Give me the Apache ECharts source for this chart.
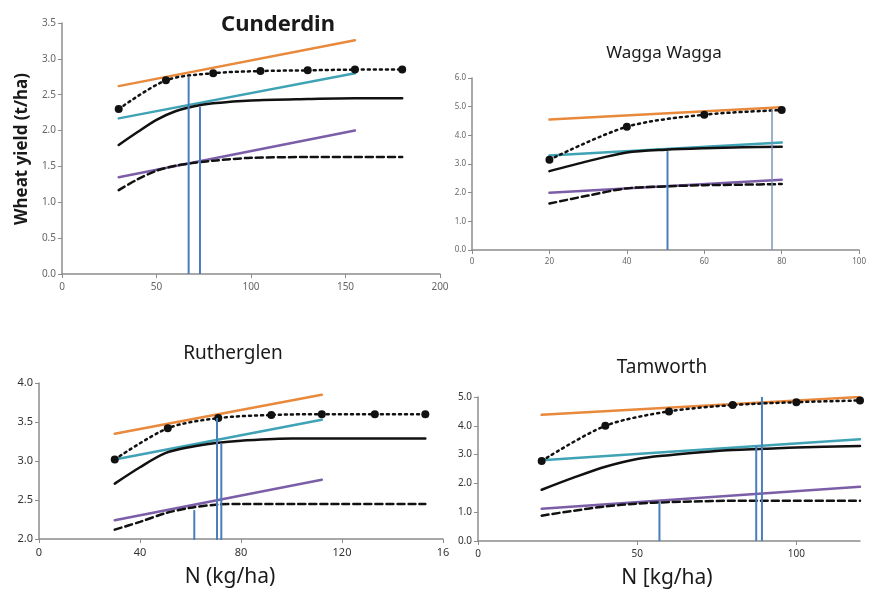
<!DOCTYPE html>
<html>
<head>
<meta charset="utf-8">
<script src="https://cdn.jsdelivr.net/npm/echarts@6/dist/echarts.min.js"></script>
<style>
html, body { margin: 0; padding: 0; background: #fff; }
#chart { width: 869px; height: 591px; }
</style>
</head>
<body>
<div id="chart"></div>
<script>
// Cunderdin
var cunLineX = [30, 155];
var cunOrange = [2.62, 3.26];
var cunTeal = [2.17, 2.8];
var cunPurple = [1.35, 2.0];
var cunDotX = [30, 55, 80, 105, 130, 155, 180];
var cunDot = [2.3, 2.7, 2.8, 2.83, 2.84, 2.85, 2.85];
var cunCurveX = [30, 40, 50, 60, 70, 80, 100, 130, 155, 180];
var cunSolid = [1.8, 1.98, 2.15, 2.27, 2.34, 2.38, 2.42, 2.44, 2.45, 2.45];
var cunDashed = [1.17, 1.32, 1.44, 1.51, 1.55, 1.58, 1.62, 1.63, 1.63, 1.63];
var cunBlueX = [67, 73];
var cunBlueTop = [2.75, 2.33];

// Wagga Wagga
var wagLineX = [20, 80];
var wagOrange = [4.55, 4.98];
var wagTeal = [3.3, 3.75];
var wagPurple = [2.0, 2.45];
var wagDotX = [20, 40, 60, 80];
var wagDot = [3.15, 4.3, 4.72, 4.88];
var wagCurveX = [20, 30, 40, 50, 60, 70, 80];
var wagSolid = [2.75, 3.1, 3.4, 3.5, 3.55, 3.58, 3.6];
var wagDashed = [1.62, 1.9, 2.15, 2.22, 2.26, 2.28, 2.3];
var wagBlueX = [50.5, 77.5];
var wagBlueTop = [3.45, 4.88];

// Rutherglen
var rutLineX = [30, 112];
var rutOrange = [3.35, 3.85];
var rutTeal = [3.02, 3.53];
var rutPurple = [2.24, 2.76];
var rutDotX = [30, 51, 71, 92, 112, 133, 153];
var rutDot = [3.02, 3.42, 3.55, 3.59, 3.6, 3.6, 3.6];
var rutCurveX = [30, 40, 50, 60, 70, 80, 100, 120, 153];
var rutSolid = [2.71, 2.92, 3.1, 3.18, 3.23, 3.26, 3.29, 3.29, 3.29];
var rutDashed = [2.12, 2.22, 2.33, 2.4, 2.44, 2.45, 2.45, 2.45, 2.45];
var rutBlueX = [61.5, 70.5, 72.2];
var rutBlueTop = [2.37, 3.55, 3.23];

// Tamworth
var tamLineX = [20, 120];
var tamOrange = [4.38, 5.0];
var tamTeal = [2.8, 3.53];
var tamPurple = [1.12, 1.88];
var tamDotX = [20, 40, 60, 80, 100, 120];
var tamDot = [2.78, 4.0, 4.5, 4.72, 4.82, 4.88];
var tamCurveX = [20, 30, 40, 50, 60, 70, 80, 90, 100, 120];
var tamSolid = [1.78, 2.2, 2.58, 2.85, 2.98, 3.08, 3.16, 3.2, 3.25, 3.3];
var tamDashed = [0.88, 1.05, 1.2, 1.3, 1.35, 1.38, 1.4, 1.4, 1.4, 1.4];
var tamBlueX = [57, 87.4, 89.2];
var tamBlueTop = [1.35, 3.3, 5.0];

var ORANGE = '#e8893c', TEAL = '#3fa3b5', PURPLE = '#7b5ea7', BLUE = '#4a7ebb', BLACK = '#111111';
var FONT = 'Noto Sans';

function pairs(xs, ys) {
    return xs.map(function (x, i) { return [x, ys[i]]; });
}

function lineSeries(idx, data, color, type, extra) {
    var s = {
        type: 'line',
        xAxisIndex: idx,
        yAxisIndex: idx,
        data: data,
        symbol: 'none',
        smooth: 0.3,
        lineStyle: { color: color, width: 2.5, type: type || 'solid', cap: 'round' },
        itemStyle: { color: color },
        silent: true,
        animation: false,
        z: 3
    };
    if (extra) {
        for (var k in extra) s[k] = extra[k];
    }
    return s;
}

function siteSeries(idx, lineX, orange, teal, purple, dotX, dot, curveX, solid, dashed, blueX, blueTop) {
    var list = [
        lineSeries(idx, pairs(lineX, orange), ORANGE),
        lineSeries(idx, pairs(lineX, teal), TEAL),
        lineSeries(idx, pairs(lineX, purple), PURPLE),
        lineSeries(idx, pairs(curveX, solid), BLACK),
        lineSeries(idx, pairs(curveX, dashed), BLACK, [7, 4]),
        lineSeries(idx, pairs(dotX, dot), BLACK, [2, 4], { symbol: 'circle', symbolSize: 8, showSymbol: true })
    ];
    // vertical optimum lines
    blueX.forEach(function (x, i) {
        var thin = (idx === 1 && i === 1);
        list.push(lineSeries(idx, [[x, 0], [x, blueTop[i]]], thin ? '#7d95b8' : BLUE, 'solid',
            { smooth: false, z: 4, lineStyle: { color: thin ? '#7d95b8' : BLUE, width: thin ? 1.5 : 2 } }));
    });
    return list;
}

function xAxis(idx, max, interval, labelColor, fontSize, extra) {
    var a = {
        gridIndex: idx,
        type: 'value',
        min: 0,
        max: max,
        interval: interval,
        splitLine: { show: false },
        axisLine: { lineStyle: { color: '#8c8c8c', width: 1.5 } },
        axisTick: { show: true, length: 4, lineStyle: { color: '#8c8c8c' } },
        axisLabel: { color: labelColor, fontSize: fontSize, fontFamily: FONT, margin: 8 }
    };
    if (extra) {
        for (var k in extra) a.axisLabel[k] = extra[k];
    }
    return a;
}

function yAxis(idx, min, max, interval, labelColor, fontSize) {
    return {
        gridIndex: idx,
        type: 'value',
        min: min,
        max: max,
        interval: interval,
        splitLine: { show: false },
        axisLine: { show: true, lineStyle: { color: '#8c8c8c', width: 1.5 } },
        axisTick: { show: true, length: 4, lineStyle: { color: '#8c8c8c' } },
        axisLabel: {
            color: labelColor, fontSize: fontSize, fontFamily: FONT, margin: 6,
            formatter: function (v) { return v.toFixed(1); }
        }
    };
}

var series = []
    .concat(siteSeries(0, cunLineX, cunOrange, cunTeal, cunPurple, cunDotX, cunDot, cunCurveX, cunSolid, cunDashed, cunBlueX, cunBlueTop))
    .concat(siteSeries(1, wagLineX, wagOrange, wagTeal, wagPurple, wagDotX, wagDot, wagCurveX, wagSolid, wagDashed, wagBlueX, wagBlueTop))
    .concat(siteSeries(2, rutLineX, rutOrange, rutTeal, rutPurple, rutDotX, rutDot, rutCurveX, rutSolid, rutDashed, rutBlueX, rutBlueTop))
    .concat(siteSeries(3, tamLineX, tamOrange, tamTeal, tamPurple, tamDotX, tamDot, tamCurveX, tamSolid, tamDashed, tamBlueX, tamBlueTop));

function titleText(text, x, y, size, weight) {
    return {
        text: text,
        left: x,
        top: y,
        textAlign: 'center',
        textVerticalAlign: 'middle',
        padding: 0,
        textStyle: { fontFamily: FONT, fontSize: size, fontWeight: weight, color: '#1a1a1a' }
    };
}

var option = {
    backgroundColor: '#ffffff',
    animation: false,
    title: [
        titleText('Cunderdin', 278, 25, 22, 'bold'),
        titleText('Wagga Wagga', 664, 53, 17, 'normal'),
        titleText('Rutherglen', 233, 354, 19, 'normal'),
        titleText('Tamworth', 662, 368, 19, 'normal'),
        titleText('N (kg/ha)', 230, 577, 21, 'normal'),
        titleText('N [kg/ha)', 667, 578, 21, 'normal')
    ],
    graphic: [{
        type: 'text',
        x: 22,
        y: 149,
        rotation: Math.PI / 2,
        style: {
            text: 'Wheat yield (t/ha)',
            font: 'bold 17px "Noto Sans"',
            fill: '#1a1a1a',
            align: 'center',
            verticalAlign: 'middle'
        }
    }],
    grid: [
        { left: 62, top: 23, width: 378, height: 251 },
        { left: 472, top: 78, width: 390, height: 172 },
        { left: 39, top: 383, width: 404, height: 156 },
        { left: 478, top: 397, width: 382, height: 144 }
    ],
    xAxis: [
        xAxis(0, 200, 50, '#666', 10),
        xAxis(1, 100, 20, '#666', 8),
        xAxis(2, 160, 40, '#333', 11, { formatter: function (v) { return v === 160 ? '16' : String(v); } }),
        xAxis(3, 120, 50, '#333', 10, { showMaxLabel: false })
    ],
    yAxis: [
        yAxis(0, 0, 3.5, 0.5, '#666', 10),
        yAxis(1, 0, 6, 1, '#666', 8),
        yAxis(2, 2, 4, 0.5, '#333', 11),
        yAxis(3, 0, 5, 1, '#333', 10)
    ],
    series: series
};

var myChart = echarts.init(document.getElementById('chart'));
myChart.setOption(option);
</script>
</body>
</html>
